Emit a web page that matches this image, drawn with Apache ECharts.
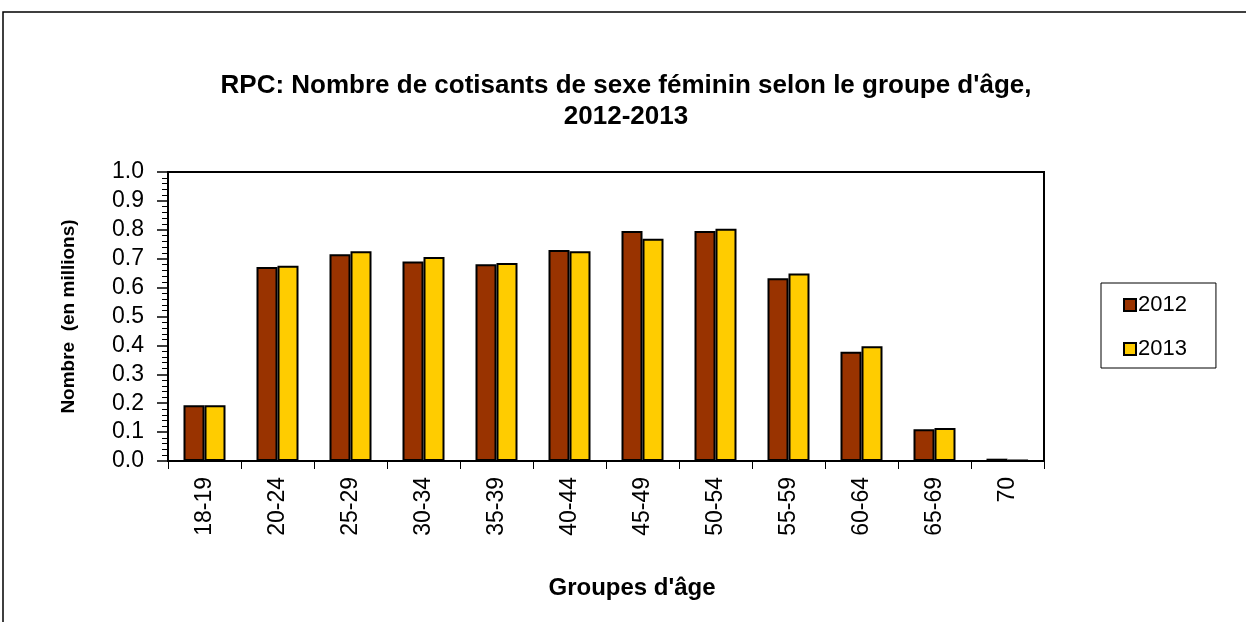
<!DOCTYPE html>
<html>
<head>
<meta charset="utf-8">
<script src="https://cdn.jsdelivr.net/npm/echarts@6/dist/echarts.min.js"></script>
<style>
  html, body { margin: 0; padding: 0; background: #fff; }
  #chart { width: 1246px; height: 622px; }
</style>
</head>
<body>
<div id="chart"></div>
<script>
// groupes d'âge et nombre de cotisantes (en millions)
const ageGroups = ['18-19', '20-24', '25-29', '30-34', '35-39', '40-44', '45-49', '50-54', '55-59', '60-64', '65-69', '70']
const values2012 = [0.193, 0.671, 0.715, 0.690, 0.681, 0.730, 0.796, 0.796, 0.632, 0.378, 0.110, 0.008]
const values2013 = [0.193, 0.676, 0.726, 0.706, 0.685, 0.726, 0.769, 0.804, 0.649, 0.397, 0.114, 0.003]
const yTicks = ['0.0', '0.1', '0.2', '0.3', '0.4', '0.5', '0.6', '0.7', '0.8', '0.9', '1.0']

const font = 'Liberation Sans, Arial, sans-serif'
const chart = echarts.init(document.getElementById('chart'))

const option = {
    animation: false,
    backgroundColor: '#fff',
    title: {
        text: "RPC: Nombre de cotisants de sexe féminin selon le groupe d'âge,\n2012-2013",
        left: 621,
        textAlign: 'center',
        top: 65,
        textStyle: {
            fontFamily: font,
            fontWeight: 'bold',
            fontSize: 26,
            lineHeight: 31,
            color: '#000'
        }
    },
    legend: {
        data: ['2012', '2013'],
        orient: 'vertical',
        left: 1101,
        top: 283,
        borderColor: '#000',
        borderWidth: 1,
        padding: [11, 29, 8, 22],
        itemGap: 22,
        itemWidth: 12,
        itemHeight: 12,
        icon: 'rect',
        itemStyle: { borderColor: '#000', borderWidth: 2 },
        textStyle: { fontFamily: font, fontSize: 22, color: '#000', padding: [0, 0, 0, -3] }
    },
    graphic: [{
        type: 'rect',
        shape: { x: 3, y: 12, width: 1300, height: 700 },
        style: { fill: 'none', stroke: '#000', lineWidth: 1.5 },
        silent: true
    }],
    grid: {
        left: 168,
        right: 202,
        top: 172,
        bottom: 161,
        show: true,
        borderColor: '#000',
        borderWidth: 2,
        backgroundColor: '#fff'
    },
    xAxis: {
        type: 'category',
        data: ageGroups,
        name: "Groupes d'âge",
        nameLocation: 'middle',
        nameGap: 115,
        nameTextStyle: { fontFamily: font, fontWeight: 'bold', fontSize: 24, color: '#000', padding: [0, 0, 0, 52] },
        axisLine: { lineStyle: { color: '#000', width: 2 } },
        axisTick: { show: true, length: 8, lineStyle: { color: '#000', width: 1 } },
        axisLabel: {
            rotate: 90,
            margin: 16,
            fontFamily: font,
            fontSize: 23,
            color: '#000',
            interval: 0
        }
    },
    yAxis: {
        type: 'value',
        min: 0,
        max: 1,
        interval: 0.1,
        name: 'Nombre  (en millions)',
        nameLocation: 'middle',
        nameGap: 90,
        nameTextStyle: { fontFamily: font, fontWeight: 'bold', fontSize: 19, color: '#000' },
        axisLine: { show: true, lineStyle: { color: '#000', width: 2 } },
        axisTick: { show: true, length: 11, lineStyle: { color: '#000', width: 1.5 } },
        minorTick: { show: true, splitNumber: 5, length: 6, lineStyle: { color: '#000', width: 1 } },
        splitLine: { show: false },
        axisLabel: {
            margin: 24,
            fontFamily: font,
            fontSize: 23,
            color: '#000',
            formatter: v => yTicks[Math.round(v * 10)]
        }
    },
    series: [
        {
            name: '2012',
            type: 'bar',
            data: values2012,
            barWidth: 21,
            barGap: '0%',
            itemStyle: { color: '#993300', borderColor: '#000', borderWidth: 2 }
        },
        {
            name: '2013',
            type: 'bar',
            data: values2013,
            barWidth: 21,
            barGap: '0%',
            itemStyle: { color: '#FFCC00', borderColor: '#000', borderWidth: 2 }
        }
    ]
}

chart.setOption(option)
window.addEventListener('resize', () => {
    chart.resize()
})
</script>
</body>
</html>
